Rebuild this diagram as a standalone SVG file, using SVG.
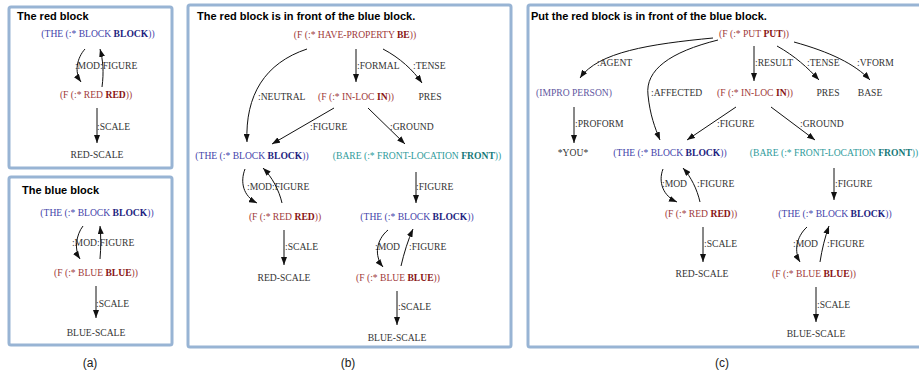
<svg xmlns="http://www.w3.org/2000/svg" width="919" height="373" viewBox="0 0 919 373">
<style>
.n{font-family:"Liberation Serif","Times New Roman",serif;font-size:9.6px;text-anchor:middle}
.r{fill:#a03a3a}.rb{fill:#881414;font-weight:bold}
.b{fill:#4444aa}.bb{fill:#1e1e80;font-weight:bold}
.t{fill:#2f9b9b}.tb{fill:#167878;font-weight:bold}
.p{fill:#6257a0}
.k{fill:#333}
.l{font-family:"Liberation Serif","Times New Roman",serif;font-size:9.6px;fill:#333}
.e{fill:none;stroke:#111;stroke-width:1;marker-end:url(#ah)}
.ttl{font-family:"Liberation Sans",Arial,sans-serif;font-size:11px;font-weight:bold;fill:#000}
.box{fill:#fff;stroke:#98b4d4;stroke-width:3}
.cap{font-family:"Liberation Sans",Arial,sans-serif;font-size:12px;fill:#222;text-anchor:middle}
</style>
<defs>
<marker id="ah" markerWidth="8" markerHeight="6" refX="8" refY="3" orient="auto" markerUnits="userSpaceOnUse"><path d="M0,0 L8,3 L0,6 z" fill="#111"/></marker>
</defs>
<rect width="919" height="373" fill="#fff"/>
<g id="frames">
<rect class="box" x="9" y="7" width="163" height="161" rx="2"/>
<rect class="box" x="9" y="177" width="163" height="168" rx="2"/>
<rect class="box" x="188" y="5" width="323" height="342" rx="2"/>
<rect class="box" x="528" y="5" width="400" height="342" rx="2"/>
</g>
<g id="titles">
<text class="ttl" x="17" y="20">The red block</text>
<text class="ttl" x="22" y="194">The blue block</text>
<text class="ttl" x="197" y="20">The red block is in front of the blue block.</text>
<text class="ttl" x="531" y="20">Put the red block is in front of the blue block.</text>
<text class="cap" x="90" y="367">(a)</text>
<text class="cap" x="348" y="367">(b)</text>
<text class="cap" x="722" y="367">(c)</text>
</g>
<g id="connectors">
<!-- panel a top -->
<path class="e" d="M85,49 C77,58 74,72 81,82"/>
<path class="e" d="M102,87 C104,72 103,60 100,49"/>
<path class="e" d="M97,108 L97,143"/>
<text class="l" x="100" y="69" text-anchor="end">:MOD</text>
<text class="l" x="100" y="69">:FIGURE</text>
<text class="l" x="97" y="130">:SCALE</text>
<!-- panel a bottom -->
<path class="e" d="M83,226 C76,235 74,250 80,259"/>
<path class="e" d="M100,259 C101,248 101,236 100,226"/>
<path class="e" d="M96,286 L96,318"/>
<text class="l" x="97" y="246" text-anchor="end">:MOD</text>
<text class="l" x="97" y="246">:FIGURE</text>
<text class="l" x="96" y="307">:SCALE</text>
<!-- panel b -->
<path class="e" d="M307,49 C265,63 245,95 247,142"/>
<path class="e" d="M356,49 L356,82"/>
<path class="e" d="M383,49 C400,58 413,70 422,83"/>
<path class="e" d="M334,108 L272,144"/>
<path class="e" d="M368,108 L405,144"/>
<path class="e" d="M245,169 C240,182 243,196 257,203"/>
<path class="e" d="M282,203 C279,190 272,177 263,168"/>
<path class="e" d="M416,172 L416,203"/>
<path class="e" d="M388,230 C376,240 374,256 383,267"/>
<path class="e" d="M401,266 C404,253 408,240 413,229"/>
<path class="e" d="M284,230 L284,265"/>
<path class="e" d="M397,291 L397,325"/>
<text class="l" x="258" y="100">:NEUTRAL</text>
<text class="l" x="357" y="69">:FORMAL</text>
<text class="l" x="413" y="69">:TENSE</text>
<text class="l" x="310" y="130">:FIGURE</text>
<text class="l" x="390" y="130">:GROUND</text>
<text class="l" x="247" y="190">:MOD</text>
<text class="l" x="272" y="190">:FIGURE</text>
<text class="l" x="416" y="190">:FIGURE</text>
<text class="l" x="375" y="250">:MOD</text>
<text class="l" x="409" y="250">:FIGURE</text>
<text class="l" x="285" y="250">:SCALE</text>
<text class="l" x="398" y="310">:SCALE</text>
<!-- panel c -->
<path class="e" d="M713,38 C650,44 598,52 580,78"/>
<path class="e" d="M718,40 C670,52 645,70 648,95 C650,115 655,128 660,140"/>
<path class="e" d="M754,46 L754,81"/>
<path class="e" d="M777,46 C795,56 808,68 819,80"/>
<path class="e" d="M794,42 C830,52 855,64 870,80"/>
<path class="e" d="M574,107 L574,143"/>
<path class="e" d="M736,107 L687,140"/>
<path class="e" d="M771,107 L815,140"/>
<path class="e" d="M663,169 C658,182 663,196 677,202"/>
<path class="e" d="M700,202 C697,189 691,177 683,168"/>
<path class="e" d="M834,168 L834,200"/>
<path class="e" d="M807,227 C796,237 794,252 800,262"/>
<path class="e" d="M820,262 C822,249 825,237 829,226"/>
<path class="e" d="M703,227 L703,262"/>
<path class="e" d="M816,287 L816,322"/>
<text class="l" x="597" y="66">:AGENT</text>
<text class="l" x="651" y="96">:AFFECTED</text>
<text class="l" x="755" y="66">:RESULT</text>
<text class="l" x="807" y="66">:TENSE</text>
<text class="l" x="857" y="66">:VFORM</text>
<text class="l" x="575" y="127">:PROFORM</text>
<text class="l" x="717" y="127">:FIGURE</text>
<text class="l" x="800" y="127">:GROUND</text>
<text class="l" x="662" y="187">:MOD</text>
<text class="l" x="697" y="187">:FIGURE</text>
<text class="l" x="835" y="187">:FIGURE</text>
<text class="l" x="793" y="247">:MOD</text>
<text class="l" x="827" y="247">:FIGURE</text>
<text class="l" x="704" y="247">:SCALE</text>
<text class="l" x="817" y="308">:SCALE</text>
</g>
<!-- panel a top nodes -->
<g id="a1_block"><text class="n b" x="98" y="37">(THE (:* BLOCK <tspan class="bb">BLOCK</tspan>))</text></g>
<g id="a1_red"><text class="n r" x="96" y="98">(F (:* RED <tspan class="rb">RED</tspan>))</text></g>
<g id="a1_redscale"><text class="n k" x="97" y="158">RED-SCALE</text></g>
<!-- panel a bottom nodes -->
<g id="a2_block"><text class="n b" x="97" y="216">(THE (:* BLOCK <tspan class="bb">BLOCK</tspan>))</text></g>
<g id="a2_blue"><text class="n r" x="96" y="276">(F (:* BLUE <tspan class="rb">BLUE</tspan>))</text></g>
<g id="a2_bluescale"><text class="n k" x="96" y="336">BLUE-SCALE</text></g>
<!-- panel b nodes -->
<g id="b_have"><text class="n r" x="355" y="38">(F (:* HAVE-PROPERTY <tspan class="rb">BE</tspan>))</text></g>
<g id="b_inloc"><text class="n r" x="356" y="100">(F (:* IN-LOC <tspan class="rb">IN</tspan>))</text></g>
<g id="b_pres"><text class="n k" x="430" y="100">PRES</text></g>
<g id="b_block1"><text class="n b" x="252" y="159">(THE (:* BLOCK <tspan class="bb">BLOCK</tspan>))</text></g>
<g id="b_front"><text class="n t" x="417" y="159">(BARE (:* FRONT-LOCATION <tspan class="tb">FRONT</tspan>))</text></g>
<g id="b_red"><text class="n r" x="285" y="220">(F (:* RED <tspan class="rb">RED</tspan>))</text></g>
<g id="b_block2"><text class="n b" x="417" y="220">(THE (:* BLOCK <tspan class="bb">BLOCK</tspan>))</text></g>
<g id="b_redscale"><text class="n k" x="284" y="281">RED-SCALE</text></g>
<g id="b_blue"><text class="n r" x="398" y="281">(F (:* BLUE <tspan class="rb">BLUE</tspan>))</text></g>
<g id="b_bluescale"><text class="n k" x="397" y="341">BLUE-SCALE</text></g>
<!-- panel c nodes -->
<g id="c_put"><text class="n r" x="754" y="37">(F (:* PUT <tspan class="rb">PUT</tspan>))</text></g>
<g id="c_impro"><text class="n p" x="574" y="96">(IMPRO PERSON)</text></g>
<g id="c_inloc"><text class="n r" x="755" y="96">(F (:* IN-LOC <tspan class="rb">IN</tspan>))</text></g>
<g id="c_pres"><text class="n k" x="828" y="96">PRES</text></g>
<g id="c_base"><text class="n k" x="870" y="96">BASE</text></g>
<g id="c_you"><text class="n k" x="573" y="156">*YOU*</text></g>
<g id="c_block1"><text class="n b" x="670" y="156">(THE (:* BLOCK <tspan class="bb">BLOCK</tspan>))</text></g>
<g id="c_front"><text class="n t" x="834" y="156">(BARE (:* FRONT-LOCATION <tspan class="tb">FRONT</tspan>))</text></g>
<g id="c_red"><text class="n r" x="701" y="217">(F (:* RED <tspan class="rb">RED</tspan>))</text></g>
<g id="c_block2"><text class="n b" x="835" y="217">(THE (:* BLOCK <tspan class="bb">BLOCK</tspan>))</text></g>
<g id="c_redscale"><text class="n k" x="702" y="277">RED-SCALE</text></g>
<g id="c_blue"><text class="n r" x="814" y="277">(F (:* BLUE <tspan class="rb">BLUE</tspan>))</text></g>
<g id="c_bluescale"><text class="n k" x="816" y="337">BLUE-SCALE</text></g>
</svg>
